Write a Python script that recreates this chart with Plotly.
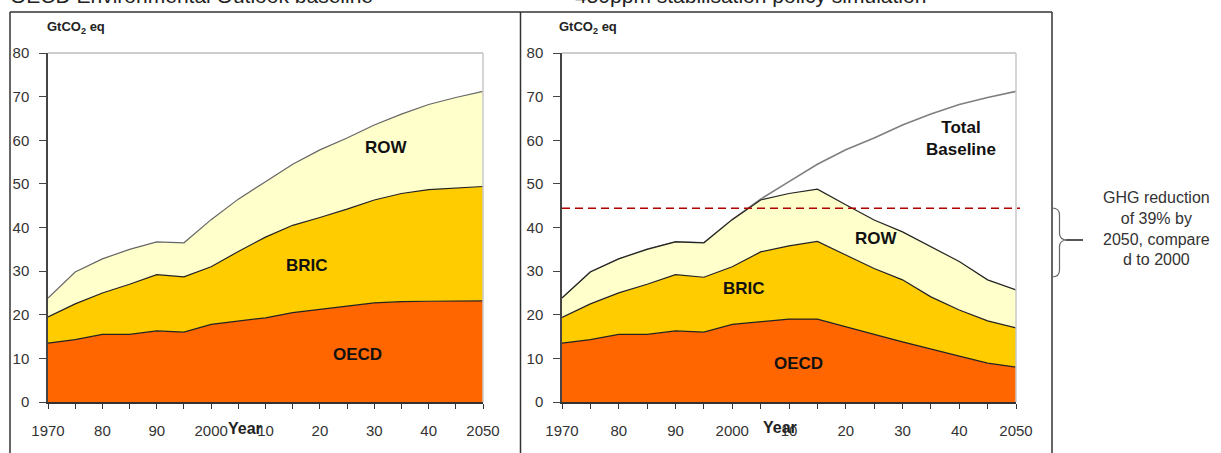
import plotly.graph_objects as go

W, H = 1221, 453

years = [1970, 1975, 1980, 1985, 1990, 1995, 2000, 2005, 2010, 2015,
         2020, 2025, 2030, 2035, 2040, 2045, 2050]
tick_labels = ["1970", "", "80", "", "90", "", "2000", "", "10", "",
               "20", "", "30", "", "40", "", "2050"]

# Baseline (GtCO2 eq) by region
base_oecd = [13.5, 14.3, 15.5, 15.5, 16.3, 16.0, 17.8, 18.5, 19.3, 20.5,
             21.3, 22.0, 22.7, 23.0, 23.1, 23.2, 23.2]
base_bric = [6.0, 8.2, 9.5, 11.5, 12.9, 12.7, 13.2, 16.0, 18.5, 20.0,
             21.0, 22.2, 23.6, 24.8, 25.6, 25.8, 26.2]
base_row = [4.3, 7.3, 7.8, 8.0, 7.5, 7.8, 10.8, 12.0, 12.7, 14.0,
            15.5, 16.3, 17.2, 18.2, 19.5, 20.8, 21.8]

# 450ppm policy simulation by region
pol_oecd = [13.5, 14.3, 15.5, 15.5, 16.3, 16.0, 17.8, 18.4, 19.0, 19.0,
            17.2, 15.5, 13.8, 12.1, 10.5, 8.9, 8.0]
pol_bric = [5.9, 8.2, 9.5, 11.5, 12.9, 12.6, 13.2, 16.0, 16.8, 17.8,
            16.5, 15.1, 14.2, 12.0, 10.6, 9.7, 9.0]
pol_row = [4.4, 7.3, 7.8, 8.0, 7.5, 7.9, 10.8, 11.9, 12.0, 12.0,
           11.5, 11.1, 11.0, 11.5, 11.1, 9.4, 8.7]

# Total baseline emissions
base_total = [23.8, 29.8, 32.8, 35.0, 36.7, 36.5, 41.8, 46.5, 50.5, 54.5,
              57.8, 60.5, 63.5, 66.0, 68.2, 69.8, 71.2]

reduction_level = 44.4

C_OECD = "#FF6600"
C_BRIC = "#FFCC00"
C_ROW = "#FFFFCC"
FONT = "Arial, Liberation Sans, sans-serif"


def px(x):
    return x / W


def py(y):
    return 1 - y / H


fig = go.Figure()

# Left panel: baseline stacked areas
for name, vals, col, lc in [("OECD", base_oecd, C_OECD, "#222"),
                            ("BRIC", base_bric, C_BRIC, "#222"),
                            ("ROW", base_row, C_ROW, "#666")]:
    fig.add_trace(go.Scatter(x=years, y=vals, mode="lines", stackgroup="base",
                             fillcolor=col, line=dict(color=lc, width=1.2),
                             name=name, xaxis="x", yaxis="y", showlegend=False))

# Right panel: total baseline line then policy stack
fig.add_trace(go.Scatter(x=years, y=base_total, mode="lines",
                         line=dict(color="#7f7f7f", width=1.6),
                         xaxis="x2", yaxis="y2", showlegend=False))
for name, vals, col, lc in [("OECD", pol_oecd, C_OECD, "#222"),
                            ("BRIC", pol_bric, C_BRIC, "#222"),
                            ("ROW", pol_row, C_ROW, "#222")]:
    fig.add_trace(go.Scatter(x=years, y=vals, mode="lines", stackgroup="pol",
                             fillcolor=col, line=dict(color=lc, width=1.2),
                             name=name, xaxis="x2", yaxis="y2", showlegend=False))

ydom = [py(402), py(53)]
xcommon = dict(range=[1970, 2050], tickmode="array", tickvals=years,
               ticktext=tick_labels, ticks="outside", ticklen=5, tickwidth=1.2,
               tickcolor="#333", showline=True, linecolor="#333", linewidth=1.5,
               showgrid=False, zeroline=False, automargin=False,
               tickfont=dict(family=FONT, size=15, color="#333"),
               ticklabelstandoff=9, fixedrange=True)
ycommon = dict(range=[0, 80], dtick=10, ticks="outside", ticklen=7, tickwidth=1.2,
               tickcolor="#444", showline=True, linecolor="#444", linewidth=1.5,
               showgrid=False, zeroline=False, automargin=False,
               tickfont=dict(family=FONT, size=15, color="#333"),
               ticklabelstandoff=7, fixedrange=True)

fig.update_layout(
    width=W, height=H,
    margin=dict(l=0, r=0, t=0, b=0, pad=0, autoexpand=False),
    paper_bgcolor="white", plot_bgcolor="white",
    xaxis=dict(domain=[px(48), px(483)], anchor="y", **xcommon),
    yaxis=dict(domain=ydom, anchor="x", **ycommon),
    xaxis2=dict(domain=[px(562), px(1016)], anchor="y2", **xcommon),
    yaxis2=dict(domain=ydom, anchor="x2", **ycommon),
    showlegend=False,
)

shapes = []
# plot area top/right borders
for xr, yr in [("x domain", "y domain"), ("x2 domain", "y2 domain")]:
    shapes.append(dict(type="line", xref=xr, yref=yr, x0=0, x1=1, y0=1, y1=1,
                       line=dict(color="#bdbdbd", width=1.5), layer="above"))
    shapes.append(dict(type="line", xref=xr, yref=yr, x0=1, x1=1, y0=0, y1=1,
                       line=dict(color="#c8c8c8", width=1.5), layer="above"))

# panel frames
frame = dict(color="#333", width=1.5)
shapes.append(dict(type="line", xref="paper", yref="paper", x0=px(10), x1=px(1052),
                   y0=py(12), y1=py(12), line=frame))
for xv in [10, 520.5, 1052]:
    shapes.append(dict(type="line", xref="paper", yref="paper", x0=px(xv), x1=px(xv),
                       y0=py(12), y1=0, line=frame))

# reduction dashed line
shapes.append(dict(type="line", xref="paper", yref="y2", x0=px(562), x1=px(1020),
                   y0=reduction_level, y1=reduction_level,
                   line=dict(color="#B00000", width=1.5, dash="8px,5px"), layer="above"))

# curly bracket
def P(x, y):
    return f"{px(x):.5f},{py(y):.5f}"

brace = (f"M {P(1052,208)} Q {P(1059.5,208)} {P(1059.5,215)} L {P(1059.5,233)} "
         f"Q {P(1059.5,240)} {P(1067,240)} Q {P(1059.5,240)} {P(1059.5,247)} "
         f"L {P(1059.5,270)} Q {P(1059.5,277)} {P(1052,277)}")
shapes.append(dict(type="path", xref="paper", yref="paper", path=brace,
                   line=dict(color="#666", width=1.2)))
shapes.append(dict(type="line", xref="paper", yref="paper", x0=px(1066), x1=px(1083),
                   y0=py(240), y1=py(240), line=dict(color="#555", width=2)))

fig.update_layout(shapes=shapes)

ann = []
# cut-off panel titles
ann.append(dict(text="OECD Environmental Outlook baseline", xref="paper", yref="paper",
                x=px(8), y=py(9.5), xanchor="left", yanchor="bottom", showarrow=False,
                font=dict(family=FONT, size=21, color="#222")))
ann.append(dict(text="450ppm stabilisation policy simulation", xref="paper", yref="paper",
                x=px(573), y=py(9.5), xanchor="left", yanchor="bottom", showarrow=False,
                font=dict(family=FONT, size=21, color="#222")))
# unit labels
for xv in [45, 557]:
    ann.append(dict(text="<b>GtCO<sub>2</sub> eq</b>", xref="paper", yref="paper",
                    x=px(xv), y=py(28), xanchor="left", yanchor="middle", showarrow=False,
                    font=dict(family=FONT, size=13, color="#222")))
# Year labels
ann.append(dict(text="<b>Year</b>", xref="x", yref="paper", x=2006.2, y=py(428),
                xanchor="center", yanchor="middle", showarrow=False,
                font=dict(family=FONT, size=16, color="#222")))
ann.append(dict(text="<b>Year</b>", xref="x2", yref="paper", x=2008.4, y=py(427),
                xanchor="center", yanchor="middle", showarrow=False,
                font=dict(family=FONT, size=16, color="#222")))
# series labels
lab = dict(family=FONT, size=17, color="#111")
for t, xr, yr, xv, yv in [("ROW", "x", "y", 2032.3, 58.4), ("BRIC", "x", "y", 2017.6, 31.4),
                          ("OECD", "x", "y", 2027.0, 11.0),
                          ("Total<br>Baseline", "x2", "y2", 2040.3, 60.3),
                          ("ROW", "x2", "y2", 2025.5, 37.4), ("BRIC", "x2", "y2", 2002.0, 26.1),
                          ("OECD", "x2", "y2", 2011.6, 8.9)]:
    ann.append(dict(text=f"<b>{t}</b>", xref=xr, yref=yr, x=xv, y=yv, showarrow=False,
                    xanchor="center", yanchor="middle", font=lab))
# reduction note
ann.append(dict(text="GHG reduction<br>of 39% by<br>2050, compare<br>d to 2000",
                xref="paper", yref="paper", x=px(1156), y=py(228), xanchor="center",
                yanchor="middle", showarrow=False, align="center",
                font=dict(family=FONT, size=16, color="#333")))
fig.update_layout(annotations=ann)

fig.write_html("out.html", config={"displayModeBar": False},
               post_script="document.body.style.margin='0';document.body.style.overflow='hidden';")
